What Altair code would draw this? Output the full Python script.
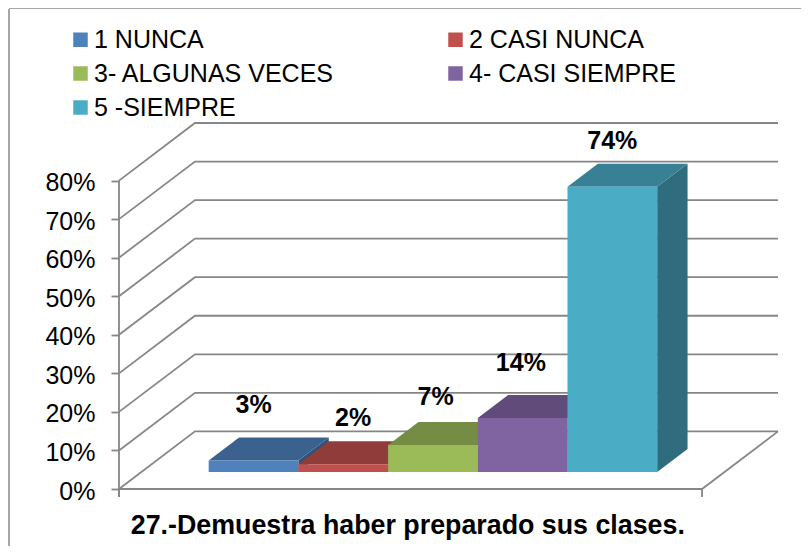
import altair as alt
import pandas as pd

categories = ["1 NUNCA", "2 CASI NUNCA", "3- ALGUNAS VECES", "4- CASI SIEMPRE", "5 -SIEMPRE"]
values = [3, 2, 7, 14, 74]
labels = ["3%", "2%", "7%", "14%", "74%"]
label_shift_x = [0.0, 0.11, 0.03, -0.02, 0.0]
label_lift = [8.3, 6.0, 6.5, 8.3, 6.0]
front_colors = ["#4F81BD", "#C0504D", "#9BBB59", "#8064A2", "#4BACC6"]
top_colors = ["#3B618E", "#903C3A", "#748C43", "#604B7A", "#388194"]
side_colors = ["#315276", "#773230", "#617537", "#503F65", "#2F6C7E"]
grid_values = [0, 10, 20, 30, 40, 50, 60, 70, 80]

# oblique projection of the 3-D box, in category and percent units
DX, DY = 0.847, 14.94
D0, D1 = 0.295, 0.695
X0, X1 = -0.75, 5.75
XMAX = 6.608
YMAX = 94.94

x_scale = alt.Scale(domain=[X0, XMAX], nice=False, zero=False)
y_scale = alt.Scale(domain=[0, YMAX], nice=False, zero=False)
X = alt.X("x:Q", scale=x_scale, axis=None)
Y = alt.Y("y:Q", scale=y_scale, axis=None)

FONT = "Liberation Sans"
GRID = "#868686"

# walls
rows = []
for v in grid_values:
    rows += [
        {"g": f"g{v}", "o": 0, "x": X0, "y": v},
        {"g": f"g{v}", "o": 1, "x": X0 + DX, "y": v + DY},
        {"g": f"g{v}", "o": 2, "x": X1 + DX, "y": v + DY},
    ]
rows += [
    {"g": "floor", "o": 0, "x": X0, "y": 0},
    {"g": "floor", "o": 1, "x": X1, "y": 0},
    {"g": "floor", "o": 2, "x": X1 + DX, "y": DY},
]
walls = (
    alt.Chart(pd.DataFrame(rows))
    .mark_line(color=GRID, strokeWidth=1.8, clip=False)
    .encode(x=X, y=Y, detail="g:N", order="o:Q")
)

axis_line = (
    alt.Chart(pd.DataFrame({"x": [X0], "y": [-2.1], "y2": [80]}))
    .mark_rule(color=GRID, strokeWidth=1.8)
    .encode(x=X, y=Y, y2="y2:Q")
)
y_axis = (
    alt.Chart(pd.DataFrame({"y": grid_values}))
    .mark_tick(opacity=0)
    .encode(
        y=alt.Y(
            "y:Q",
            scale=y_scale,
            axis=alt.Axis(
                values=grid_values,
                labelExpr="datum.value + '%'",
                title=None,
                grid=False,
                domain=False,
                tickColor=GRID,
                tickWidth=1.8,
                tickSize=8,
                labelFont=FONT,
                labelFontSize=25,
                labelColor="#000000",
                labelPadding=16,
                labelOffset=2,
            ),
        )
    )
)
x_ticks = (
    alt.Chart(pd.DataFrame({"x": [X0, X1], "y": [0.0, 0.0], "y2": [-2.1, -2.1]}))
    .mark_rule(color=GRID, strokeWidth=1.8)
    .encode(x=X, y=Y, y2="y2:Q")
)

# bars
front_rows, label_rows, faces = [], [], []
for i, (c, v) in enumerate(zip(categories, values)):
    xl = i + D0 * DX
    xr = xl + 1
    by = D0 * DY
    dxb = (D1 - D0) * DX
    dyb = (D1 - D0) * DY
    side_df = pd.DataFrame(
        [
            {"x": xr, "y": by, "y2": by + v},
            {"x": xr + dxb, "y": by + dyb, "y2": by + dyb + v},
        ]
    )
    top_df = pd.DataFrame(
        [
            {"y": by + v, "x": xl, "x2": xr},
            {"y": by + v + dyb, "x": xl + dxb, "x2": xr + dxb},
        ]
    )
    faces.append(
        alt.Chart(side_df)
        .mark_area(orient="vertical", color=side_colors[i], clip=False)
        .encode(x=X, y=Y, y2="y2:Q")
    )
    faces.append(
        alt.Chart(top_df)
        .mark_area(orient="horizontal", color=top_colors[i], clip=False)
        .encode(y=Y, x=X, x2="x2:Q")
    )
    front_rows.append({"c": c, "x": xl, "x2": xr, "y": by, "y2": by + v})
    label_rows.append(
        {"c": c, "t": labels[i], "x": xl + 0.5 + label_shift_x[i], "y": by + dyb + v + label_lift[i]}
    )

fronts = (
    alt.Chart(pd.DataFrame(front_rows))
    .mark_rect()
    .encode(
        x=X,
        x2="x2:Q",
        y=Y,
        y2="y2:Q",
        color=alt.Color(
            "c:N",
            scale=alt.Scale(domain=categories, range=front_colors),
            legend=alt.Legend(
                title=None,
                orient="none",
                legendX=-51,
                legendY=-96,
                direction="horizontal",
                columns=2,
                columnPadding=108,
                rowPadding=8,
                symbolType="square",
                symbolSize=210,
                symbolStrokeWidth=0,
                labelFont=FONT,
                labelFontSize=25,
                labelColor="#000000",
                labelLimit=400,
                labelOffset=1,
            ),
        ),
    )
)
data_labels = (
    alt.Chart(pd.DataFrame(label_rows))
    .mark_text(font=FONT, fontSize=25, fontWeight="bold", color="#000000", baseline="middle", clip=False)
    .encode(x=X, y=Y, text="t:N")
)
title = (
    alt.Chart(pd.DataFrame({"x": [2.47], "y": [-9.5], "t": ["27.-Demuestra haber preparado sus clases."]}))
    .mark_text(font=FONT, fontSize=26.8, fontWeight="bold", color="#000000", baseline="middle", clip=False)
    .encode(x=X, y=Y, text="t:N")
)
border = (
    alt.Chart(pd.DataFrame({"a": [0]}))
    .mark_rule(stroke="#A6A6A6", strokeWidth=2)
    .encode(x=alt.value(-110), y=alt.value(-114), y2=alt.value(424))
)
border_top = (
    alt.Chart(pd.DataFrame({"a": [0]}))
    .mark_rule(stroke="#A6A6A6", strokeWidth=2)
    .encode(x=alt.value(-110), x2=alt.value(682), y=alt.value(-115))
)

chart = (
    alt.layer(border, border_top, walls, y_axis, axis_line, x_ticks, *faces, fronts, data_labels, title)
    .resolve_scale(color="independent")
    .resolve_axis(y="independent")
    .properties(
        width=660,
        height=366,
        autosize=alt.AutoSizeParams(type="none"),
        padding={"left": 111, "top": 115, "right": 22, "bottom": 57},
        background="#FFFFFF",
    )
    .configure_view(stroke=None)
)
chart.save("out.html", embed_options={"renderer": "svg", "actions": False})
